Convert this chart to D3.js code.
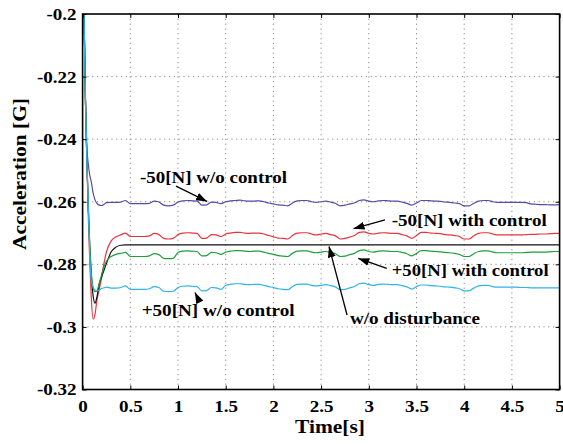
<!DOCTYPE html>
<html>
<head>
<meta charset="utf-8">
<script src="https://cdn.jsdelivr.net/npm/d3@7"></script>
<style>
  html, body { margin: 0; padding: 0; background: #fff; }
  svg { display: block; }
  text { font-family: "Liberation Serif", "Times New Roman", serif; font-weight: bold; fill: #000; }
</style>
</head>
<body>
<svg id="chart" width="563" height="444"></svg>
<script>
// Sample instants [s]: dense during the start-up transient, then every 0.05 s
const time = [0, 0.015, 0.03, 0.045, 0.06, 0.075, 0.09, 0.11, 0.13, 0.15, 0.175, 0.2, 0.225, 0.25, 0.3, 0.35, 0.4, 0.45,
  0.5, 0.55, 0.6, 0.65, 0.7, 0.75, 0.8, 0.85, 0.9, 0.95,
  1.0, 1.05, 1.1, 1.15, 1.2, 1.25, 1.3, 1.35, 1.4, 1.45,
  1.5, 1.55, 1.6, 1.65, 1.7, 1.75, 1.8, 1.85, 1.9, 1.95,
  2.0, 2.05, 2.1, 2.15, 2.2, 2.25, 2.3, 2.35, 2.4, 2.45,
  2.5, 2.55, 2.6, 2.65, 2.7, 2.75, 2.8, 2.85, 2.9, 2.95,
  3.0, 3.05, 3.1, 3.15, 3.2, 3.25, 3.3, 3.35, 3.4, 3.45,
  3.5, 3.55, 3.6, 3.65, 3.7, 3.75, 3.8, 3.85, 3.9, 3.95,
  4.0, 4.05, 4.1, 4.15, 4.2, 4.25, 4.3, 4.35, 4.4, 4.45,
  4.5, 4.55, 4.6, 4.65, 4.7, 4.75, 4.8, 4.85, 4.9, 4.95, 5.0];

// -50[N] without control [G]
const minus50NoCtrl = [-0.185, -0.2, -0.226, -0.2425, -0.2480, -0.2515, -0.2534, -0.2572, -0.2594, -0.2605, -0.2611, -0.2612, -0.2608, -0.2603, -0.2602, -0.2602, -0.2601, -0.2596,
  -0.2606, -0.2606, -0.2606, -0.2606, -0.2605, -0.2598, -0.2601, -0.2611, -0.2613, -0.2611,
  -0.2601, -0.2597, -0.2596, -0.2597, -0.2598, -0.2611, -0.2610, -0.2601, -0.2602, -0.2606,
  -0.2600, -0.2597, -0.2596, -0.2595, -0.2597, -0.2598, -0.2598, -0.2597, -0.2600, -0.2604,
  -0.2607, -0.2610, -0.2611, -0.2613, -0.2604, -0.2597, -0.2596, -0.2596, -0.2600, -0.2602,
  -0.2600, -0.2598, -0.2601, -0.2605, -0.2613, -0.2611, -0.2607, -0.2604, -0.2596, -0.2594,
  -0.2598, -0.2600, -0.2597, -0.2596, -0.2597, -0.2598, -0.2598, -0.2601, -0.2605, -0.2611,
  -0.2604, -0.2596, -0.2596, -0.2597, -0.2598, -0.2599, -0.2601, -0.2602, -0.2604, -0.2606,
  -0.2613, -0.2613, -0.2605, -0.2598, -0.2596, -0.2596, -0.2600, -0.2602, -0.2602, -0.2602,
  -0.2602, -0.2602, -0.2602, -0.2603, -0.2607, -0.2608, -0.2609, -0.2609, -0.2610, -0.2610, -0.2609];

// -50[N] with control [G]
const minus50Ctrl = [-0.185, -0.2, -0.228, -0.247, -0.265, -0.279, -0.290, -0.2975, -0.2960, -0.2915, -0.2880, -0.2840, -0.2795, -0.2760, -0.2725, -0.2712, -0.2706, -0.2700,
  -0.2711, -0.2711, -0.2711, -0.2711, -0.2709, -0.2701, -0.2705, -0.2717, -0.2719, -0.2717,
  -0.2705, -0.2700, -0.2699, -0.2700, -0.2701, -0.2717, -0.2716, -0.2705, -0.2706, -0.2711,
  -0.2703, -0.2700, -0.2698, -0.2698, -0.2700, -0.2701, -0.2700, -0.2700, -0.2703, -0.2708,
  -0.2712, -0.2716, -0.2717, -0.2719, -0.2708, -0.2700, -0.2699, -0.2699, -0.2703, -0.2706,
  -0.2703, -0.2701, -0.2705, -0.2709, -0.2719, -0.2717, -0.2713, -0.2708, -0.2698, -0.2696,
  -0.2701, -0.2703, -0.2700, -0.2699, -0.2700, -0.2701, -0.2701, -0.2705, -0.2709, -0.2717,
  -0.2708, -0.2698, -0.2698, -0.2700, -0.2701, -0.2702, -0.2705, -0.2706, -0.2708, -0.2711,
  -0.2719, -0.2719, -0.2709, -0.2701, -0.2699, -0.2699, -0.2703, -0.2706, -0.2706, -0.2706,
  -0.2706, -0.2706, -0.2706, -0.2705, -0.2704, -0.2704, -0.2703, -0.2703, -0.2702, -0.2701, -0.2701];

// No disturbance: settles and stays flat
const noDistTime = [0, 0.015, 0.03, 0.045, 0.06, 0.075, 0.09, 0.11, 0.13, 0.15, 0.175, 0.2, 0.225, 0.25, 0.3, 0.35, 0.4, 0.45, 5.0];
const noDist = [-0.185, -0.2, -0.228, -0.247, -0.262, -0.274, -0.283, -0.2900, -0.2924, -0.2905, -0.2862, -0.2840, -0.2818, -0.2797, -0.2760, -0.2745, -0.2739, -0.2738, -0.2738];

// +50[N] with control [G]
const plus50Ctrl = [-0.185, -0.2, -0.228, -0.247, -0.262, -0.274, -0.282, -0.2875, -0.2887, -0.2885, -0.2860, -0.2832, -0.2807, -0.2790, -0.2775, -0.2768, -0.2765, -0.2762,
  -0.2775, -0.2775, -0.2775, -0.2775, -0.2773, -0.2766, -0.2769, -0.2781, -0.2782, -0.2781,
  -0.2762, -0.2758, -0.2757, -0.2758, -0.2759, -0.2773, -0.2772, -0.2762, -0.2763, -0.2768,
  -0.2761, -0.2758, -0.2756, -0.2756, -0.2758, -0.2759, -0.2758, -0.2758, -0.2761, -0.2765,
  -0.2768, -0.2772, -0.2774, -0.2775, -0.2765, -0.2758, -0.2757, -0.2757, -0.2761, -0.2763,
  -0.2761, -0.2759, -0.2762, -0.2766, -0.2775, -0.2774, -0.2769, -0.2765, -0.2756, -0.2754,
  -0.2759, -0.2761, -0.2758, -0.2757, -0.2758, -0.2759, -0.2759, -0.2762, -0.2766, -0.2773,
  -0.2765, -0.2756, -0.2756, -0.2758, -0.2759, -0.2760, -0.2762, -0.2763, -0.2765, -0.2768,
  -0.2775, -0.2775, -0.2766, -0.2759, -0.2757, -0.2757, -0.2761, -0.2763, -0.2763, -0.2763,
  -0.2763, -0.2763, -0.2763, -0.2762, -0.2761, -0.2761, -0.2761, -0.2761, -0.2760, -0.2759, -0.2759];

// +50[N] without control [G]
const plus50NoCtrl = [-0.185, -0.2, -0.228, -0.247, -0.262, -0.277, -0.2852, -0.2872, -0.2882, -0.2884, -0.2882, -0.2877, -0.2875, -0.2873, -0.2876, -0.2876, -0.2874, -0.2869,
  -0.2880, -0.2880, -0.2880, -0.2880, -0.2878, -0.2871, -0.2874, -0.2886, -0.2887, -0.2886,
  -0.2874, -0.2870, -0.2869, -0.2870, -0.2871, -0.2885, -0.2884, -0.2874, -0.2875, -0.2880,
  -0.2867, -0.2864, -0.2862, -0.2862, -0.2864, -0.2865, -0.2864, -0.2864, -0.2867, -0.2871,
  -0.2874, -0.2878, -0.2880, -0.2881, -0.2871, -0.2864, -0.2863, -0.2863, -0.2867, -0.2869,
  -0.2867, -0.2865, -0.2868, -0.2872, -0.2881, -0.2880, -0.2875, -0.2871, -0.2862, -0.2860,
  -0.2865, -0.2867, -0.2864, -0.2863, -0.2864, -0.2865, -0.2865, -0.2868, -0.2872, -0.2879,
  -0.2871, -0.2866, -0.2866, -0.2868, -0.2869, -0.2870, -0.2872, -0.2873, -0.2875, -0.2878,
  -0.2885, -0.2885, -0.2876, -0.2869, -0.2867, -0.2867, -0.2871, -0.2873, -0.2873, -0.2873,
  -0.2873, -0.2873, -0.2874, -0.2874, -0.2875, -0.2875, -0.2875, -0.2875, -0.2875, -0.2875, -0.2875];

const xTicks = [0, 0.5, 1, 1.5, 2, 2.5, 3, 3.5, 4, 4.5, 5];
const xTickLabels = ["0", "0.5", "1", "1.5", "2", "2.5", "3", "3.5", "4", "4.5", "5"];
const yTicks = [-0.2, -0.22, -0.24, -0.26, -0.28, -0.3, -0.32];
const yTickLabels = ["-0.2", "-0.22", "-0.24", "-0.26", "-0.28", "-0.3", "-0.32"];

// Callout labels with arrows, in data units (text anchor, arrow tail, arrow tip)
const callouts = [
  { text: "-50[N] w/o control",   tx: 0.602, ty: -0.2540, width: 147, from: [0.979, -0.2550], to: [1.304, -0.2599] },
  { text: "-50[N] with control",  tx: 3.240, ty: -0.2677, width: 155, from: [3.170, -0.2658], to: [2.840, -0.2686] },
  { text: "+50[N] with control",  tx: 3.240, ty: -0.2836, width: 157, from: [3.188, -0.2813], to: [2.890, -0.2781] },
  { text: "+50[N] w/o control",   tx: 0.619, ty: -0.2966, width: 153, from: [1.225, -0.2919], to: [1.178, -0.2890] },
  { text: "w/o disturbance",      tx: 2.802, ty: -0.2990, width: 130, from: [2.772, -0.2962], to: [2.583, -0.2743] }
];

const series = [
  { t: time, v: minus50NoCtrl, color: "#5a4aa6" },
  { t: time, v: minus50Ctrl,   color: "#e8343e" },
  { t: noDistTime, v: noDist,  color: "#111111" },
  { t: time, v: plus50Ctrl,    color: "#1f9e3c" },
  { t: time, v: plus50NoCtrl,  color: "#2fb3ea" }
];

const FONT = '"Liberation Serif", "Times New Roman", serif';
const svg = d3.select("#chart");
const plotL = 82.6, plotR = 559.6, plotT = 14, plotB = 389.5;
const x = d3.scaleLinear().domain([0, 5]).range([plotL, plotR]);
const y = d3.scaleLinear().domain([-0.32, -0.2]).range([plotB, plotT]);

// Stretch a text element horizontally by a given factor
function widen(sel, k) {
  sel.each(function () {
    const w = this.getComputedTextLength();
    d3.select(this).attr("textLength", w * k).attr("lengthAdjust", "spacingAndGlyphs");
  });
}

const defs = svg.append("defs");
defs.append("clipPath").attr("id", "plotClip")
  .append("rect").attr("x", plotL).attr("y", plotT).attr("width", plotR - plotL).attr("height", plotB - plotT);
defs.append("marker").attr("id", "arrowHead")
  .attr("markerUnits", "userSpaceOnUse")
  .attr("viewBox", "0 0 11 8").attr("refX", 11).attr("refY", 4)
  .attr("markerWidth", 11).attr("markerHeight", 8).attr("orient", "auto")
  .append("path").attr("d", "M0,0 L11,4 L0,8 Z").attr("fill", "#000");

// Dotted grid
const grid = svg.append("g").attr("stroke", "#8a8a8a").attr("stroke-width", 1).attr("stroke-dasharray", "1.2,3.6");
grid.selectAll("line.gx").data(xTicks.slice(1, -1)).join("line").attr("class", "gx")
  .attr("x1", d => x(d)).attr("x2", d => x(d)).attr("y1", plotT).attr("y2", plotB);
grid.selectAll("line.gy").data(yTicks.slice(1, -1)).join("line").attr("class", "gy")
  .attr("x1", plotL).attr("x2", plotR).attr("y1", d => y(d)).attr("y2", d => y(d));

// Traces
const line = d3.line().x(d => x(d[0])).y(d => y(d[1])).curve(d3.curveMonotoneX);
svg.append("g").attr("clip-path", "url(#plotClip)")
  .selectAll("path").data(series).join("path")
  .attr("d", s => line(s.t.map((t, i) => [t, s.v[i]])))
  .attr("fill", "none").attr("stroke", s => s.color).attr("stroke-width", 1.2);

// Axes: ticks pointing inward on all four sides
const axB = svg.append("g").attr("transform", `translate(0,${plotB})`)
  .call(d3.axisBottom(x).tickValues(xTicks).tickSize(-4).tickPadding(10).tickFormat((d, i) => xTickLabels[i]));
const axT = svg.append("g").attr("transform", `translate(0,${plotT})`)
  .call(d3.axisTop(x).tickValues(xTicks).tickSize(-4).tickFormat(""));
const axL = svg.append("g").attr("transform", `translate(${plotL},0)`)
  .call(d3.axisLeft(y).tickValues(yTicks).tickSize(-4).tickPadding(6).tickFormat((d, i) => yTickLabels[i]));
const axR = svg.append("g").attr("transform", `translate(${plotR},0)`)
  .call(d3.axisRight(y).tickValues(yTicks).tickSize(-4).tickFormat(""));

[axB, axT, axL, axR].forEach(g => g.attr("font-family", null).attr("font-size", null));
svg.selectAll(".domain").remove();
svg.selectAll(".tick line").attr("stroke", "#000").attr("stroke-width", 1);
svg.selectAll(".tick text")
  .style("font-family", FONT).style("font-size", "17px").style("font-weight", "bold").style("fill", "#000");
axB.selectAll(".tick text").call(widen, 1.12);
axL.selectAll(".tick text").call(widen, 1.12);

// Frame
svg.append("rect").attr("x", plotL).attr("y", plotT).attr("width", plotR - plotL).attr("height", plotB - plotT)
  .attr("fill", "none").attr("stroke", "#000").attr("stroke-width", 1.6);

// Axis titles
svg.append("text").attr("x", 330).attr("y", 432.5).attr("text-anchor", "middle")
  .style("font-size", "19px").text("Time[s]")
  .attr("textLength", 70).attr("lengthAdjust", "spacingAndGlyphs");
svg.append("text").attr("transform", "translate(25.5,174) rotate(-90)").attr("text-anchor", "middle")
  .style("font-size", "18.5px").text("Acceleration [G]")
  .attr("textLength", 152).attr("lengthAdjust", "spacingAndGlyphs");

// Callouts
const ann = svg.append("g");
ann.selectAll("line").data(callouts).join("line")
  .attr("x1", d => x(d.from[0])).attr("y1", d => y(d.from[1]))
  .attr("x2", d => x(d.to[0])).attr("y2", d => y(d.to[1]))
  .attr("stroke", "#000").attr("stroke-width", 1.3).attr("marker-end", "url(#arrowHead)");
ann.selectAll("text").data(callouts).join("text")
  .attr("x", d => x(d.tx)).attr("y", d => y(d.ty))
  .style("font-size", "17px").text(d => d.text)
  .attr("textLength", d => d.width).attr("lengthAdjust", "spacingAndGlyphs");
</script>
</body>
</html>
